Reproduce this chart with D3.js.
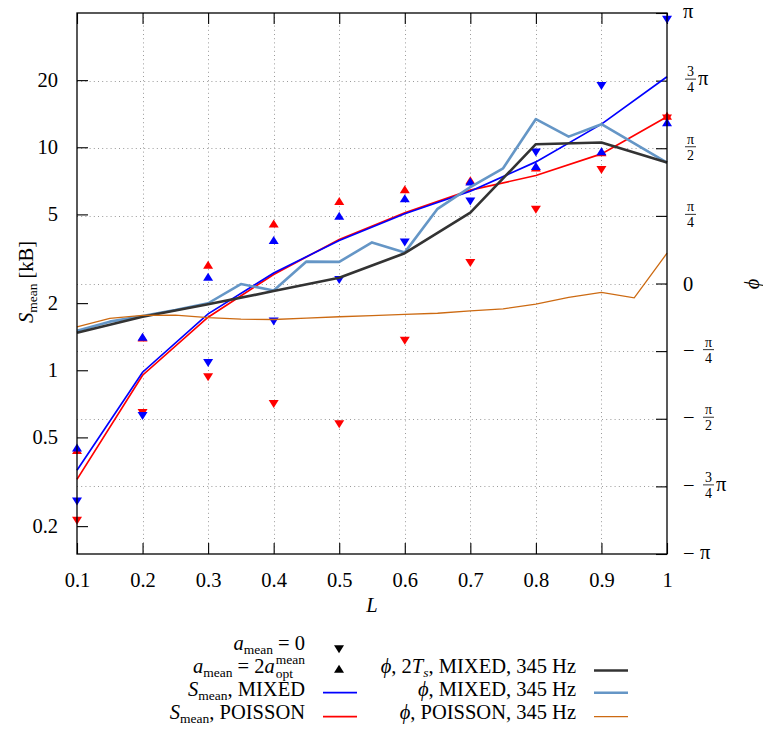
<!DOCTYPE html>
<html><head><meta charset="utf-8">
<script src="https://cdn.jsdelivr.net/npm/d3@7"></script>
<style>
body{margin:0;background:#fff}
svg{display:block}
svg text{font-family:'Liberation Serif','DejaVu Serif',serif !important;fill:#000}
</style>
</head><body>
<svg id="c" width="763" height="729" font-family="Liberation Serif, DejaVu Serif, serif"></svg>
<script>
// ---------------- data ----------------
const L = [0.1,0.2,0.3,0.4,0.5,0.6,0.7,0.8,0.9,1.0];
const xTickLabels = ["0.1","0.2","0.3","0.4","0.5","0.6","0.7","0.8","0.9","1"];
const sTicks = [0.2,0.5,1,2,5,10,20];
const sTickLabels = ["0.2","0.5","1","2","5","10","20"];
const phiTicks = [-1,-0.75,-0.5,-0.25,0,0.25,0.5,0.75,1];          // units of π
const phiTickLabels = ["-π","-3/4π","-π/2","-π/4","0","π/4","π/2","3/4π","π"];

// S_mean [kB]
const sMixed   = [0.356,0.98,1.79,2.73,3.82,5.03,6.35,8.60,12.7,20.7];
const sPoisson = [0.324,0.95,1.73,2.69,3.86,5.08,6.42,7.47,9.34,13.7];
// markers: a_mean = 2 a_opt (up) and a_mean = 0 (down)
const upMixed     = [0.449,1.41,2.62,3.83,4.91,5.89,7.00,8.22,9.56,12.9];
const upPoisson   = [0.438,1.40,2.96,4.54,5.73,6.46,7.09,8.09,9.47,13.8];
const downMixed   = [0.259,0.626,1.08,1.66,2.55,3.75,5.73,9.51,18.9,37.4];
const downPoisson = [0.212,0.646,0.934,0.708,0.575,1.36,3.04,5.26,7.94,13.5];

// phase φ (units of π)
const phi2TsMixed = [-0.182,-0.123,-0.077,-0.028,0.021,0.112,0.262,0.515,0.521,0.447];
const Lfine = [0.1,0.15,0.2,0.25,0.3,0.35,0.4,0.45,0.5,0.55,0.6,0.65,0.7,0.75,0.8,0.85,0.9,0.95,1.0];
const phiMixed   = [-0.175,-0.141,-0.120,-0.098,-0.073,-0.002,-0.026,0.081,0.080,0.152,0.115,0.276,0.356,0.426,0.608,0.543,0.589,0.518,0.447];
const phiPoisson = [-0.160,-0.129,-0.118,-0.117,-0.126,-0.132,-0.133,-0.128,-0.123,-0.119,-0.114,-0.110,-0.101,-0.094,-0.076,-0.051,-0.033,-0.053,0.112];

// ---------------- setup ----------------
const FS = 20.5, SS = 13.5;
const svg = d3.select("#c");
const X0 = 77, X1 = 667, Y0 = 13, Y1 = 554;
const x = d3.scaleLinear().domain([0.1,1]).range([X0,X1]);
const yS = d3.scaleLog().domain([0.15,40]).range([Y1,Y0]);
const yP = d3.scaleLinear().domain([-1,1]).range([Y1,Y0]);

const C = {blue:"#0000ff", red:"#ff0000", black:"#333333", lblue:"#6596c6", orange:"#cc6a12"};

// grid
const grid = svg.append("g").attr("stroke","#9a9a9a").attr("stroke-width",1).attr("stroke-dasharray","1,3.2");
grid.selectAll("line.v").data(L.slice(1,-1)).join("line")
  .attr("x1",d=>Math.round(x(d))+0.5).attr("x2",d=>Math.round(x(d))+0.5).attr("y1",Y0).attr("y2",Y1);
grid.selectAll("line.h").data(phiTicks.slice(1,-1)).join("line")
  .attr("y1",d=>Math.round(yP(d))+0.5).attr("y2",d=>Math.round(yP(d))+0.5).attr("x1",X0).attr("x2",X1);

// axes
function styleAxis(g){ g.attr("font-family",null).attr("font-size",null);
  g.select(".domain").remove(); g.selectAll(".tick line").attr("stroke","#000").attr("stroke-width",1.1);
  g.selectAll(".tick text").attr("font-size",FS); }
svg.append("g").attr("transform",`translate(${X0},0)`)
  .call(d3.axisLeft(yS).tickValues(sTicks).tickFormat((d,i)=>sTickLabels[i]).tickSizeInner(-11).tickSizeOuter(0).tickPadding(19))
  .call(styleAxis);
svg.append("g").attr("transform",`translate(0,${Y1})`)
  .call(d3.axisBottom(x).tickValues(L).tickFormat((d,i)=>xTickLabels[i]).tickSizeInner(-11).tickSizeOuter(0).tickPadding(18))
  .call(styleAxis);
svg.append("g").attr("transform",`translate(0,${Y0})`)
  .call(d3.axisTop(x).tickValues(L).tickFormat("").tickSizeInner(-11).tickSizeOuter(0))
  .call(styleAxis);
svg.append("g").attr("transform",`translate(${X1},0)`)
  .call(d3.axisRight(yP).tickValues(phiTicks).tickFormat("").tickSizeInner(-11).tickSizeOuter(0))
  .call(styleAxis);

// phi tick labels with fractions
const pl = svg.append("g");
phiTicks.forEach((t,i)=>{
  const lab = phiTickLabels[i], yy = yP(t);
  const neg = lab.startsWith("-"); const rest = neg? lab.slice(1): lab;
  let cx = 684;
  if(neg){ pl.append("text").attr("x",683).attr("y",yy+5.5).attr("font-size",FS).text("−"); cx = 701; }
  let m;
  if((m = rest.match(/^(\d)\/(\d)π$/)) || (m = rest.match(/^(π)\/(\d)$/))){
    const fx = neg? cx+2 : cx+1;
    const w = 11;
    pl.append("line").attr("x1",fx).attr("x2",fx+w).attr("y1",yy-1.5).attr("y2",yy-1.5).attr("stroke","#000").attr("stroke-width",0.8);
    pl.append("text").attr("x",fx+w/2).attr("y",yy-4.5).attr("text-anchor","middle").attr("font-size",14).text(m[1]);
    pl.append("text").attr("x",fx+w/2).attr("y",yy+11.5).attr("text-anchor","middle").attr("font-size",14).text(m[2]);
    if(rest.endsWith("π") && m[1]!=="π") pl.append("text").attr("x",fx+w+2).attr("y",yy+4.5).attr("font-size",FS).text("π");
  } else {
    pl.append("text").attr("x",cx-1).attr("y",yy+(rest==="0"?7:4.5)).attr("font-size",FS).text(rest);
  }
});

// lines (S axis)
const lineS = d3.line().x(d=>x(d[0])).y(d=>yS(d[1]));
const lineP = d3.line().x(d=>x(d[0])).y(d=>yP(d[1]));
const zip = (a,b)=>a.map((v,i)=>[v,b[i]]);
svg.append("path").attr("d",lineS(zip(L,sPoisson))).attr("fill","none").attr("stroke",C.red).attr("stroke-width",1.7);
svg.append("path").attr("d",lineS(zip(L,sMixed))).attr("fill","none").attr("stroke",C.blue).attr("stroke-width",1.7);

// markers
const triUp = "M0,-4.3L5,3.7L-5,3.7Z", triDown = "M0,4.3L5,-3.7L-5,-3.7Z";
function markers(vals, path, color){
  svg.append("g").selectAll("path").data(zip(L,vals)).join("path")
    .attr("d",path).attr("fill",color)
    .attr("transform",d=>`translate(${x(d[0])},${yS(d[1])})`);
}
markers(upPoisson, triUp, C.red);
markers(downPoisson, triDown, C.red);
markers(upMixed, triUp, C.blue);
markers(downMixed, triDown, C.blue);

// phase lines
svg.append("path").attr("d",lineP(zip(Lfine,phiMixed))).attr("fill","none").attr("stroke",C.lblue).attr("stroke-width",2.6).attr("stroke-linejoin","round");
svg.append("path").attr("d",lineP(zip(L,phi2TsMixed))).attr("fill","none").attr("stroke",C.black).attr("stroke-width",2.6).attr("stroke-linejoin","round");
svg.append("path").attr("d",lineP(zip(Lfine,phiPoisson))).attr("fill","none").attr("stroke",C.orange).attr("stroke-width",1.3);

// frame
svg.append("rect").attr("x",X0).attr("y",Y0).attr("width",X1-X0).attr("height",Y1-Y0)
  .attr("fill","none").attr("stroke","#000").attr("stroke-width",1.3);

// axis labels
const yl = svg.append("text").attr("transform","translate(32.5,282) rotate(-90)").attr("text-anchor","middle").attr("font-size",FS);
yl.append("tspan").attr("font-style","italic").text("S");
yl.append("tspan").attr("font-size",SS).attr("dy",4).text("mean");
yl.append("tspan").attr("dy",-4).text(" [kB]");
svg.append("text").attr("x",372).attr("y",612).attr("text-anchor","middle").attr("font-size",FS).attr("font-style","italic").text("L");
svg.append("text").attr("transform","translate(759,284) rotate(-90)").attr("text-anchor","middle").attr("font-size",FS).attr("font-style","italic").text("ϕ");

// ---------------- legend ----------------
const lg = svg.append("g");
function mtext(xr, yb, parts){
  const t = lg.append("text").attr("x",xr).attr("y",yb).attr("text-anchor","end").attr("font-size",FS);
  let cur = 0;
  parts.forEach(p=>{
    const s = t.append("tspan").text(p.t);
    if(p.i) s.attr("font-style","italic");
    const target = p.sub? 4 : 0;
    if(target!==cur){ s.attr("dy",target-cur); cur=target; }
    if(p.sub) s.attr("font-size",SS);
  });
  return t;
}
// row 1
mtext(305,650,[{t:"a",i:1},{t:"mean",sub:1},{t:" = 0"}]);
lg.append("path").attr("d",triDown).attr("transform","translate(339,649)").attr("fill","#000");
// row 2
{
  const sup = lg.append("text").attr("x",0).attr("y",664).attr("font-size",SS).text("mean");
  const w = sup.node().getComputedTextLength();
  sup.attr("x",305-w);
  lg.append("text").attr("x",305-w).attr("y",677.5).attr("font-size",SS).text("opt");
  mtext(305-w-1,673,[{t:"a",i:1},{t:"mean",sub:1},{t:" = 2"},{t:"a",i:1}]);
}
lg.append("path").attr("d",triUp).attr("transform","translate(339,669)").attr("fill","#000");
mtext(576,673,[{t:"ϕ",i:1},{t:", 2"},{t:"T",i:1},{t:"s",sub:1,i:1},{t:", MIXED, 345 Hz"}]);
lg.append("line").attr("x1",594).attr("x2",628).attr("y1",670.5).attr("y2",670.5).attr("stroke",C.black).attr("stroke-width",2.6);
// row 3
mtext(305,696,[{t:"S",i:1},{t:"mean",sub:1},{t:", MIXED"}]);
lg.append("line").attr("x1",323).attr("x2",357).attr("y1",692.7).attr("y2",692.7).attr("stroke",C.blue).attr("stroke-width",1.7);
mtext(576,696,[{t:"ϕ",i:1},{t:", MIXED, 345 Hz"}]);
lg.append("line").attr("x1",594).attr("x2",628).attr("y1",692.7).attr("y2",692.7).attr("stroke",C.lblue).attr("stroke-width",2.6);
// row 4
mtext(305,719,[{t:"S",i:1},{t:"mean",sub:1},{t:", POISSON"}]);
lg.append("line").attr("x1",323).attr("x2",357).attr("y1",716.7).attr("y2",716.7).attr("stroke",C.red).attr("stroke-width",1.7);
mtext(576,719,[{t:"ϕ",i:1},{t:", POISSON, 345 Hz"}]);
lg.append("line").attr("x1",594).attr("x2",628).attr("y1",716.7).attr("y2",716.7).attr("stroke",C.orange).attr("stroke-width",1.3);
</script>
</body></html>
